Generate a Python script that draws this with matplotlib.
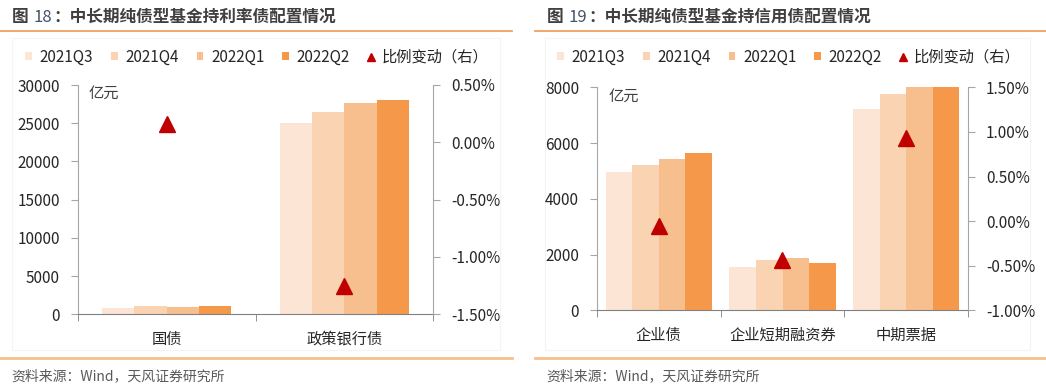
import numpy as np
import matplotlib
matplotlib.use("Agg")
import matplotlib.pyplot as plt
from matplotlib.patches import Patch, Rectangle
from matplotlib.lines import Line2D
from matplotlib.ticker import FuncFormatter

plt.rcParams['font.family'] = ['Noto Sans CJK SC', 'DejaVu Sans']
plt.rcParams['axes.unicode_minus'] = False

# data
quarters = ['2021Q3', '2021Q4', '2022Q1', '2022Q2']
colors = ['#FCE5D5', '#FAD3B2', '#F8BF8E', '#F5984A']
red = '#C00000'

rate_cats = ['国债', '政策银行债']
rate_vals = [[800, 25000], [1130, 26450], [900, 27700], [1080, 28080]]
rate_chg = [0.16, -1.25]

credit_cats = ['企业债', '企业短期融资券', '中期票据']
credit_vals = [[4950, 1540, 7230], [5200, 1790, 7760], [5420, 1880, 8150], [5630, 1700, 8400]]
credit_chg = [-0.05, -0.44, 0.93]

W, H = 1046, 387
fig = plt.figure(figsize=(W / 100, H / 100), dpi=100)
renderer = fig.canvas.get_renderer()


def fx(px):
    return px / W


def fy(py):
    return 1 - py / H


def panel(x0, x1, title_num, title_rest, box):
    # title drawn in pieces, each placed after the previous one
    parts = [('图 ', 'bold', '#404040'), (title_num, 'normal', '#44546A'),
             ('：' + title_rest, 'bold', '#404040')]
    xpos = x0 + 12
    for s, w, c in parts:
        t = fig.text(fx(xpos), fy(17), s, fontsize=12, fontweight=w, color=c, va='center')
        xpos += t.get_window_extent(renderer).width + 1
    fig.add_artist(Line2D([fx(x0), fx(x1)], [fy(31), fy(31)], color='#F0A060', lw=1.3))
    fig.add_artist(Line2D([fx(x0), fx(x1)], [fy(358), fy(358)], color='#F8C08A', lw=2))
    fig.text(fx(x0 + 11), fy(376), '资料来源：Wind，天风证券研究所', fontsize=10, color='#595959', va='center')
    bx0, by0, bx1, by1 = box
    fig.add_artist(Rectangle((fx(bx0), fy(by1)), fx(bx1 - bx0), (by1 - by0) / H,
                             facecolor='none', edgecolor='#F4F4F4', lw=0.8, zorder=-1))


def chart(rect, cats, vals, chg, ymax, ystep, rlim, rstep, group):
    ax = fig.add_axes(rect)
    n = len(cats)
    x = np.arange(n)
    bw = group / 4
    for i in range(4):
        ax.bar(x - group / 2 + bw * (i + 0.5), vals[i], bw, color=colors[i], zorder=2)
    ax.set_xlim(-0.5, n - 0.5)
    ax.set_ylim(0, ymax)
    ax.set_yticks(np.arange(0, ymax + 1, ystep))
    ax.set_xticks(x)
    ax.set_xticklabels(cats)
    ax.set_xticks(np.arange(-0.5, n, 1), minor=True)
    ax.tick_params(axis='x', which='major', length=0, pad=12, labelsize=11, labelcolor='#262626')
    ax.tick_params(axis='x', which='minor', length=5, color='#808080', direction='out')
    ax.tick_params(axis='y', length=5, color='#A6A6A6', pad=8, labelsize=11, labelcolor='#262626')
    ax.spines['top'].set_visible(False)
    ax.spines['right'].set_visible(False)
    ax.spines['left'].set_color('#A6A6A6')
    ax.spines['bottom'].set_color('#808080')
    ax.patch.set_alpha(0)
    ax.text(0.03, 1.0, '亿元', transform=ax.transAxes, fontsize=11, color='#404040', va='top')

    ax2 = ax.twinx()
    ax2.plot(x, chg, linestyle='none', marker='^', markersize=11, color=red, zorder=3)
    ax2.set_ylim(*rlim)
    ax2.set_yticks(np.arange(rlim[0], rlim[1] + 1e-9, rstep))
    ax2.yaxis.set_major_formatter(FuncFormatter(lambda v, p: '%.2f%%' % v))
    ax2.tick_params(axis='y', length=5, color='#A6A6A6', pad=8, labelsize=11, labelcolor='#262626')
    for s in ['top', 'left', 'bottom']:
        ax2.spines[s].set_visible(False)
    ax2.spines['right'].set_color('#A6A6A6')
    return ax


def legend(cx):
    handles = [Patch(facecolor=c, edgecolor='none') for c in colors]
    handles.append(Line2D([], [], linestyle='none', marker='^', markersize=6, color=red))
    labels = quarters + ['比例变动（右）']
    fig.legend(handles, labels, loc='center', bbox_to_anchor=(fx(cx), fy(57)), ncol=5,
               frameon=False, fontsize=11, handlelength=0.45, handleheight=0.45,
               handletextpad=0.5, columnspacing=1.15, labelcolor='#262626')


panel(0, 512, '18', '中长期纯债型基金持利率债配置情况', (12, 38, 500, 350))
panel(535, 1046, '19', '中长期纯债型基金持信用债配置情况', (545, 38, 1030, 350))

chart([fx(78), fy(314.3), fx(355), 229.3 / H], rate_cats, rate_vals, rate_chg,
      30000, 5000, (-1.5, 0.5), 0.5, 0.727)
chart([fx(597), fy(310.3), fx(371), 223 / H], credit_cats, credit_vals, credit_chg,
      8000, 2000, (-1.0, 1.5), 0.5, 0.862)

legend(257)
legend(789)

fig.savefig('out.png', dpi=100)
